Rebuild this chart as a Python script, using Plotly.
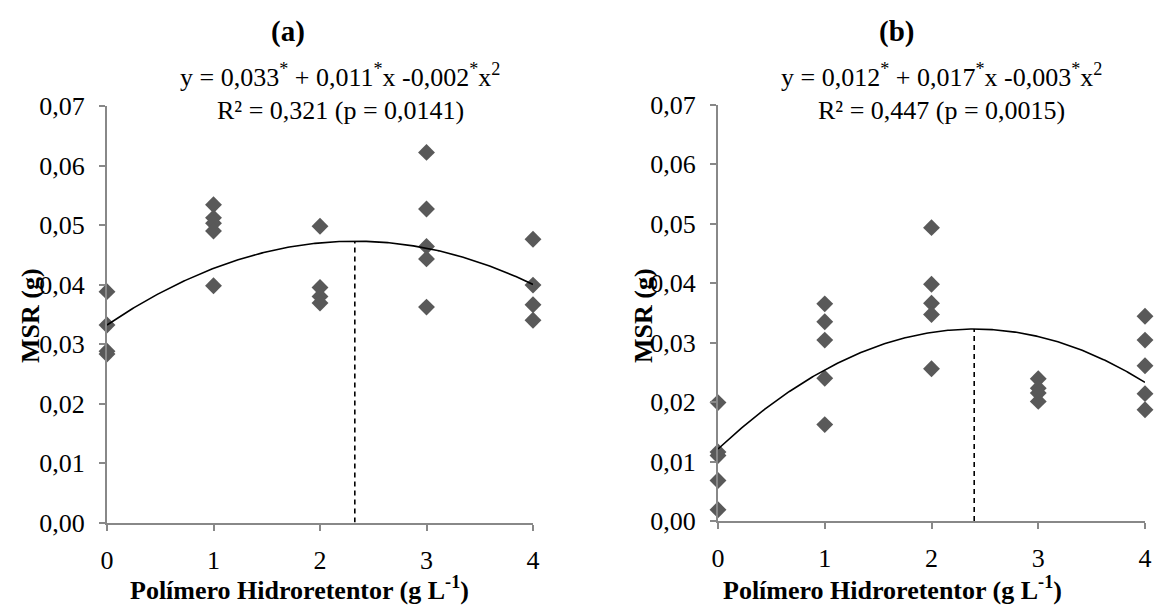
import numpy as np
import plotly.graph_objects as go

# ---- data ----
levels = [0, 1, 2, 3, 4]

# Panel (a)
a_x = [0, 0, 0, 0,
       1, 1, 1, 1, 1,
       2, 2, 2, 2,
       3, 3, 3, 3, 3,
       4, 4, 4, 4]
a_y = [0.0388, 0.0332, 0.0288, 0.0283,
       0.0534, 0.0512, 0.0503, 0.0490, 0.0398,
       0.0498, 0.0395, 0.0380, 0.0369,
       0.0622, 0.0527, 0.0464, 0.0443, 0.0362,
       0.0476, 0.0399, 0.0366, 0.0340]
a_coef = [0.0332, 0.0121, -0.0026]   # curve as drawn: c0 + c1*x + c2*x^2

# Panel (b)
b_x = [0, 0, 0, 0, 0,
       1, 1, 1, 1, 1,
       2, 2, 2, 2, 2,
       3, 3, 3, 3,
       4, 4, 4, 4, 4]
b_y = [0.0199, 0.0116, 0.0110, 0.0068, 0.0019,
       0.0365, 0.0335, 0.0304, 0.0240, 0.0162,
       0.0493, 0.0398, 0.0366, 0.0347, 0.0256,
       0.0239, 0.0223, 0.0215, 0.0201,
       0.0344, 0.0304, 0.0261, 0.0214, 0.0187]
b_coef = [0.0121, 0.0168, -0.0035]

panel_titles = ["(a)", "(b)"]
eq_line1 = ["y = 0,033<sup>*</sup> + 0,011<sup>*</sup>x -0,002<sup>*</sup>x<sup>2</sup>",
            "y = 0,012<sup>*</sup> + 0,017<sup>*</sup>x -0,003<sup>*</sup>x<sup>2</sup>"]
eq_line2 = ["R² = 0,321 (p = 0,0141)", "R² = 0,447 (p = 0,0015)"]
y_title = "MSR (g)"
x_title = "Polímero Hidroretentor (g L<sup>-1</sup>)"
y_ticks = [0.00, 0.01, 0.02, 0.03, 0.04, 0.05, 0.06, 0.07]

# ---- figure ----
W, H = 1155, 605
FONT = "Liberation Serif, Times New Roman, serif"
MARKER = "#595959"
AXIS = "#888888"

fig = go.Figure()

panels = [
    dict(x=a_x, y=a_y, coef=a_coef, xa="x", ya="y", px=(107, 533), py=(106, 522.5)),
    dict(x=b_x, y=b_y, coef=b_coef, xa="x2", ya="y2", px=(718, 1145), py=(104.5, 521)),
]

for i, p in enumerate(panels):
    xs = np.linspace(0, 4, 300)
    c0, c1, c2 = p["coef"]
    ys = c0 + c1 * xs + c2 * xs ** 2
    xv = -c1 / (2 * c2)
    yv = c0 + c1 * xv + c2 * xv ** 2
    fig.add_trace(go.Scatter(x=p["x"], y=p["y"], mode="markers", xaxis=p["xa"], yaxis=p["ya"],
                             marker=dict(symbol="diamond", size=13, color=MARKER, line=dict(width=0)),
                             cliponaxis=False, showlegend=False, hoverinfo="skip"))
    fig.add_trace(go.Scatter(x=xs, y=ys, mode="lines", xaxis=p["xa"], yaxis=p["ya"],
                             line=dict(color="black", width=1.6), cliponaxis=False,
                             showlegend=False, hoverinfo="skip"))
    fig.add_trace(go.Scatter(x=[xv, xv], y=[0, yv], mode="lines", xaxis=p["xa"], yaxis=p["ya"],
                             line=dict(color="black", width=1.6, dash="5px,4px"),
                             showlegend=False, hoverinfo="skip"))

TICKFONT = dict(family=FONT, size=26, color="black")
common_x = dict(range=[0, 4], tickvals=levels, ticks="outside", ticklen=6, tickwidth=1.5,
                tickcolor=AXIS, showline=True, linecolor=AXIS, linewidth=2, showgrid=False,
                zeroline=False, ticklabelstandoff=7, tickfont=TICKFONT,
                fixedrange=True, automargin=False)
common_y = dict(range=[0, 0.07], tickvals=y_ticks, tickformat=".2f", ticks="outside", ticklen=6,
                tickwidth=1.5, tickcolor=AXIS, showline=True, linecolor=AXIS, linewidth=2,
                showgrid=False, zeroline=False, ticklabelstandoff=9,
                tickfont=TICKFONT, fixedrange=True, automargin=False)

def dom_x(px):
    return [px[0] / W, px[1] / W]

def dom_y(py):
    return [1 - py[1] / H, 1 - py[0] / H]

fig.update_layout(
    width=W, height=H, margin=dict(l=0, r=0, t=0, b=0, pad=0, autoexpand=False),
    paper_bgcolor="white", plot_bgcolor="white", separators=",.",
    xaxis=dict(domain=dom_x(panels[0]["px"]), anchor="y", **common_x),
    yaxis=dict(domain=dom_y(panels[0]["py"]), anchor="x", **common_y),
    xaxis2=dict(domain=dom_x(panels[1]["px"]), anchor="y2", **common_x),
    yaxis2=dict(domain=dom_y(panels[1]["py"]), anchor="x2", **common_y),
    font=dict(family=FONT, color="black"),
)

ann = []
title_x = [288, 896]
eq_x = [340, 941]
ytitle_x = [30, 643]
xtitle_x = [299, 892]
for i in range(2):
    base = dict(xref="paper", yref="paper", showarrow=False, xanchor="center", yanchor="middle")
    ann.append(dict(text="<b>" + panel_titles[i] + "</b>", x=title_x[i] / W, y=1 - 31 / H,
                    font=dict(size=29), **base))
    ann.append(dict(text=eq_line1[i], x=eq_x[i] / W, y=1 - 76 / H, font=dict(size=26), **base))
    ann.append(dict(text=eq_line2[i], x=eq_x[i] / W, y=1 - 110 / H, font=dict(size=26), **base))
    ann.append(dict(text="<b>" + y_title + "</b>", x=ytitle_x[i] / W, y=1 - 316 / H,
                    textangle=-90, font=dict(size=26), **base))
    ann.append(dict(text="<b>" + x_title + "</b>", x=xtitle_x[i] / W, y=1 - 588 / H,
                    font=dict(size=26), **base))
fig.update_layout(annotations=ann)

fig.write_html("out.html")
